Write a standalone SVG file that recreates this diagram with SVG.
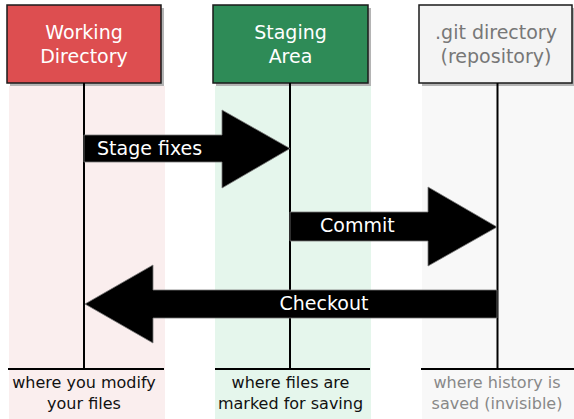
<svg xmlns="http://www.w3.org/2000/svg" width="574" height="419" viewBox="0 0 574 419">
<defs>
<style>
.box{stroke:#1a1a1a;stroke-width:1.5}
.shadow{fill:#b4b4b4}
.title{font-family:"DejaVu Sans",sans-serif;font-size:19px;text-anchor:middle}
.note{font-family:"DejaVu Sans",sans-serif;font-size:16px;text-anchor:middle}
.life{stroke:#000;stroke-width:2;fill:none}
.arrow{fill:#000;stroke:#777;stroke-width:0.8}
.alabel{font-family:"DejaVu Sans",sans-serif;font-size:19px;fill:#fff}
</style>
</defs>
<rect width="574" height="419" fill="#fff"/>
<g id="working-directory">
<rect x="9" y="86" width="156" height="333" fill="#faeeee"/>
<rect class="shadow" x="10" y="8" width="154" height="78"/>
<rect class="box" x="7" y="5" width="154" height="78" fill="#dd4e50"/>
<text class="title" x="84" y="39" fill="#fff">Working</text>
<text class="title" x="84" y="63" fill="#fff">Directory</text>
<line class="life" x1="84" y1="83" x2="84" y2="369"/>
<line class="life" x1="8" y1="369" x2="164" y2="369"/>
<text class="note" x="84" y="388" fill="#111">where you modify</text>
<text class="note" x="84" y="409" fill="#111">your files</text>
</g>
<g id="staging-area">
<rect x="215" y="86" width="156" height="333" fill="#e5f6ec"/>
<rect class="shadow" x="216" y="8" width="155" height="78"/>
<rect class="box" x="213" y="5" width="155" height="78" fill="#2e8b57"/>
<text class="title" x="290.5" y="39" fill="#fff">Staging</text>
<text class="title" x="290.5" y="63" fill="#fff">Area</text>
<line class="life" x1="290" y1="83" x2="290" y2="369"/>
<line class="life" x1="215" y1="369" x2="370" y2="369"/>
<text class="note" x="290.5" y="388" fill="#111">where files are</text>
<text class="note" x="290.5" y="409" fill="#111">marked for saving</text>
</g>
<g id="git-directory">
<rect x="422" y="86" width="156" height="333" fill="#f8f8f8"/>
<rect class="shadow" x="422" y="8" width="154" height="78"/>
<rect class="box" x="419" y="5" width="153" height="78" fill="#f4f4f4"/>
<text class="title" x="496" y="39" fill="#777">.git directory</text>
<text class="title" x="496" y="63" fill="#777">(repository)</text>
<line class="life" x1="497.5" y1="83" x2="497.5" y2="369"/>
<line class="life" x1="421" y1="369" x2="574" y2="369"/>
<text class="note" x="497" y="388" fill="#888">where history is</text>
<text class="note" x="497" y="409" fill="#888">saved (invisible)</text>
</g>
<g id="connectors">
<g id="stage-fixes">
<polygon class="arrow" points="84,135 222,135 222,110 290,148.5 222,188 222,162 84,162"/>
<text class="alabel" x="97" y="154.5">Stage fixes</text>
</g>
<g id="commit">
<polygon class="arrow" points="290,212 428,212 428,187 497,227 428,266 428,241 290,241"/>
<text class="alabel" x="320" y="232">Commit</text>
</g>
<g id="checkout">
<polygon class="arrow" points="497,290 153,290 153,265 85,304 153,343 153,318 497,318"/>
<text class="alabel" x="324" y="310" text-anchor="middle">Checkout</text>
</g>
</g>
</svg>
